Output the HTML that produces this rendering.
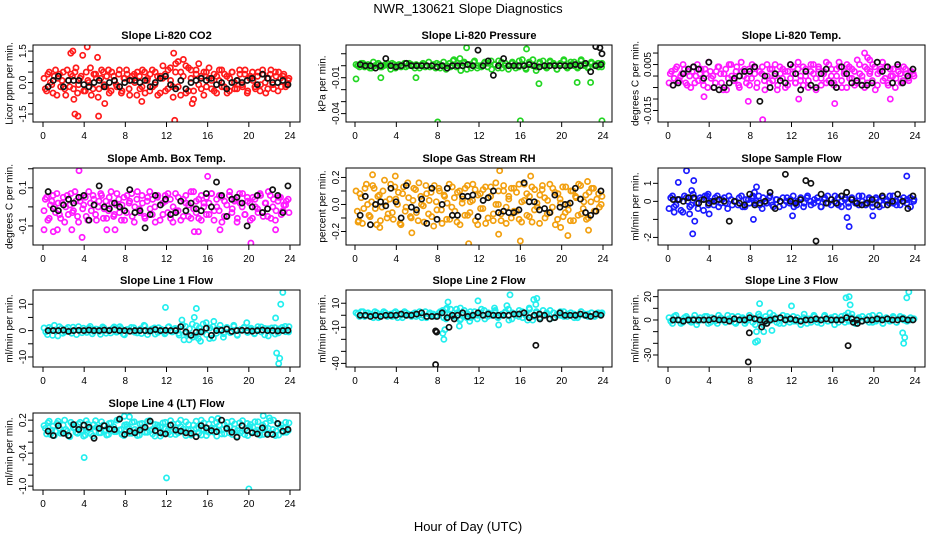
<!DOCTYPE html>
<html><head><meta charset="utf-8"><style>
html,body{margin:0;padding:0;background:#fff;}
svg{display:block;font-family:"Liberation Sans",sans-serif;}
</style></head><body>
<svg id="chart" width="936" height="540" viewBox="0 0 936 540" xmlns="http://www.w3.org/2000/svg">
<text x="468" y="13" text-anchor="middle" font-size="13">NWR_130621  Slope Diagnostics</text>
<text x="468" y="531" text-anchor="middle" font-size="13">Hour of Day (UTC)</text>
</svg>
<script>
const xTicks=[0,4,8,12,16,20,24];
const co2=[0.2,-0.4,0.5,-0.1,0.3,-0.6,0.4,0.1,-0.3,0.6,-0.2,0.3,0.5,-0.5,0.2,1.3,-0.4,0.1,0.7,-0.3,0.4,-0.7,0.2,0.5,-0.2,0.6,-0.4,0.3,-0.1,0.4,-0.5,0.2,0.6,-0.3,0.1,0.4,-0.6,0.3,-0.2,0.5,0.1,-0.4,0.6,-0.1,0.3,-0.5,0.2,0.4,-0.3,0.7,-0.2,0.5,1.0,-0.6,0.3,0.8,-0.4,0.6,-0.8,0.4,0.9,-0.3,0.5,-0.2,0.7,0.1,-0.4,0.3,0.6,-0.2,0.4,-0.5,0.2,0.5,-0.3,0.1,0.4,-0.2,0.6,-0.4,0.3,0.1,-0.3,0.5,-0.1,0.4,-0.5,0.2,0.6,-0.3,0.3,0.5,-0.2,0.4,-0.1,0.2];
const co2B=[-0.3,0.4,0.0,-0.5,0.6,0.2,-0.2,0.5,-0.6,0.1,0.4,-0.3,0.7,-0.1,0.3,-0.4,0.5,0.0,-0.6,0.4,0.2,-0.3,0.6,-0.1,0.3,-0.5,0.5,0.1,-0.2,0.6,-0.4,0.2,0.4,-0.6,0.3,0.0,0.5,-0.3,0.6,-0.5,0.2,0.4,-0.2,0.5,-0.6,0.3,0.8,-0.4,0.6,0.1,-0.7,0.9,-0.2,0.5,1.1,-0.5,0.7,0.2,-0.4,0.6,-0.1,0.3,-0.6,0.5,0.2,-0.3,0.4,-0.5,0.1,0.6,-0.2,0.3,-0.4,0.5,0.0,-0.3,0.6,-0.1,0.4,-0.5,0.2,0.5,-0.2,0.3,-0.4,0.6,0.0,-0.3,0.4,-0.1,0.5,-0.4,0.2,0.3,-0.2,0.1];
const co2Out=[[2.7,1.4],[2.9,1.5],[3.1,-1.5],[3.4,-1.6],[4.3,1.7],[5.3,1.2],[5.4,-1.6],[6.0,-1.0],[9.6,-0.9],[12.7,1.4],[12.8,-1.8],[14.5,-1.0],[3.0,-0.8]];
const co2Black=[-0.2,0.1,0.3,-0.2,0.1,0.1,0.1,-0.1,-0.2,0.0,0.1,-0.2,0.0,0.1,-0.2,0.0,0.1,0.1,0.0,0.1,-0.2,0.0,0.2,0.3,-0.1,-0.3,0.1,-0.3,0.0,0.1,0.2,0.1,0.2,-0.1,0.0,-0.3,0.0,0.1,0.0,0.1,0.2,-0.1,0.4,0.2,0.0,0.0,0.1,-0.1];
const co2BlackOut=[];
const pres=[0.001,-0.001,0.002,0.000,-0.002,0.003,0.001,-0.001,0.000,0.002,-0.003,0.001,0.000,-0.001,0.002,0.000,0.001,-0.002,0.000,0.001,-0.001,0.003,0.000,-0.002,0.001,0.000,-0.003,0.002,0.004,-0.001,0.006,0.002,-0.003,0.001,0.003,-0.002,0.000,0.002,-0.001,0.004,0.001,-0.002,0.003,0.000,-0.003,0.002,0.001,-0.001,0.005,-0.002,0.003,0.000,-0.004,0.002,0.004,-0.001,0.003,0.001,-0.003,0.002,0.004,-0.002,0.001,0.003,-0.001,0.005,0.000,-0.002,0.002,0.001,-0.001,0.002];
const presB=[0.000,0.002,-0.001,0.001,-0.002,0.000,0.002,-0.001,0.001,0.000,0.002,-0.002,0.001,0.000,-0.001,0.002,0.000,0.001,-0.002,0.002,0.000,-0.001,0.001,0.002,-0.002,0.003,0.000,-0.001,0.005,0.002,-0.004,0.003,0.001,-0.002,0.004,0.000,-0.001,0.003,0.002,-0.003,0.001,0.004,-0.002,0.002,0.000,0.003,-0.002,0.004,0.001,-0.003,0.002,0.005,-0.001,0.003,0.000,-0.002,0.004,0.002,-0.003,0.001,0.005,-0.001,0.003,0.000,-0.002,0.004,0.001,-0.001,0.003,0.000,0.002,-0.001];
const presOut=[[0.1,-0.011],[8.0,-0.047],[16.0,-0.046],[23.9,-0.046],[17.8,-0.015],[21.5,-0.014],[22.8,-0.014],[10.8,0.015],[16.6,0.014],[5.9,-0.010],[2.5,-0.010]];
const presBlack=[0.001,0.000,0.000,-0.002,0.000,0.006,0.000,-0.001,0.000,0.002,0.000,0.000,0.000,0.000,0.000,-0.001,0.000,-0.002,0.000,0.000,0.000,0.001,0.000,0.013,0.000,0.004,-0.008,0.000,0.006,0.000,0.000,0.000,0.000,0.001,0.000,-0.001,0.000,0.000,0.000,0.000,0.000,0.000,0.001,0.000,0.002,-0.005,0.000,0.001];
const presBlackOut=[[23.3,0.016],[23.7,0.015],[23.9,0.010]];
const temp=[-0.003,0.002,-0.001,0.004,-0.002,0.001,0.003,-0.004,0.000,0.002,-0.003,0.005,0.001,-0.002,0.003,-0.005,0.002,0.000,-0.003,0.004,0.001,-0.006,0.003,-0.001,0.005,-0.002,0.002,-0.004,0.006,0.000,-0.003,0.003,-0.001,0.004,-0.005,0.002,0.001,-0.002,0.005,-0.003,0.003,0.000,-0.006,0.004,-0.001,0.002,-0.004,0.005,0.001,-0.003,0.003,-0.002,0.004,0.000,-0.005,0.002,0.005,-0.001,0.003,-0.004,0.001,0.006,-0.002,0.003,-0.003,0.000,0.004,-0.005,0.002,0.005,-0.001,0.003,-0.004,0.007,0.001,-0.002,0.004,-0.003,0.002,0.005,-0.006,0.001,0.003,-0.002,0.004,-0.004,0.000,0.003,-0.001,0.002,-0.003,0.004,0.001,-0.002,0.002,0.000];
const tempB=[0.001,-0.004,0.003,-0.002,0.000,0.005,-0.003,0.002,-0.005,0.004,0.000,-0.002,0.003,-0.004,0.001,0.006,-0.001,-0.005,0.002,0.004,-0.003,0.001,-0.006,0.005,0.000,-0.002,0.004,-0.005,0.002,0.003,-0.001,-0.004,0.005,0.001,-0.003,0.002,0.004,-0.006,0.000,0.003,-0.002,0.005,-0.004,0.001,0.003,-0.005,0.002,-0.001,0.004,-0.003,0.006,0.000,-0.004,0.003,-0.002,0.005,0.001,-0.006,0.004,-0.001,0.002,-0.003,0.005,0.000,-0.004,0.003,0.006,-0.002,0.001,-0.005,0.004,-0.001,0.002,-0.003,0.005,0.000,-0.005,0.003,0.001,-0.002,0.004,-0.004,0.002,0.006,-0.001,-0.003,0.003,0.000,-0.005,0.004,0.001,-0.002,0.003,-0.001,0.002,0.001];
const tempOut=[[9.2,-0.019],[16.2,-0.012],[19.1,0.010],[19.4,0.008],[19.6,0.007],[7.8,-0.011],[12.7,-0.010],[21.6,-0.010],[3.5,-0.009]];
const tempBlack=[-0.004,-0.003,0.001,0.003,0.004,0.003,-0.001,0.006,-0.005,-0.006,-0.005,-0.003,-0.001,0.000,0.002,0.002,0.004,-0.011,0.000,-0.005,0.001,-0.002,-0.003,0.005,0.001,-0.006,0.002,-0.004,-0.005,0.001,0.003,-0.003,-0.005,0.004,0.001,-0.003,-0.002,-0.004,-0.004,-0.003,0.006,0.002,0.004,-0.003,0.005,-0.003,0.000,0.003];
const tempBlackOut=[];
const amb=[-0.02,0.05,-0.06,0.03,0.00,0.07,-0.04,0.02,-0.08,0.06,0.01,-0.03,0.08,-0.05,0.03,-0.01,0.05,-0.07,0.02,0.06,-0.04,0.00,0.07,-0.06,0.03,-0.02,0.08,-0.05,0.01,0.04,-0.07,0.05,-0.03,0.02,0.07,-0.08,0.04,-0.01,0.06,-0.05,0.03,0.08,-0.04,0.00,0.05,-0.07,0.02,0.06,-0.03,0.04,-0.08,0.07,-0.02,0.03,-0.05,0.06,0.01,-0.06,0.08,-0.03,0.04,-0.07,0.02,0.05,-0.04,0.07,-0.02,0.00,0.06,-0.08,0.03,-0.05,0.08,-0.01,0.04,-0.06,0.02,0.07,-0.04,0.03,-0.07,0.05,0.00,-0.03,0.06,-0.05,0.02,0.08,-0.06,0.04,-0.02,0.05,-0.04,0.01,0.03,-0.03];
const ambB=[0.04,-0.07,0.01,0.06,-0.03,0.02,-0.06,0.05,0.00,-0.04,0.07,-0.02,0.03,-0.08,0.05,0.01,-0.05,0.08,-0.02,0.04,-0.07,0.03,0.06,-0.01,-0.06,0.05,0.02,-0.04,0.07,-0.03,0.01,-0.07,0.06,0.03,-0.05,0.00,0.08,-0.03,0.02,-0.06,0.05,-0.01,0.04,-0.08,0.06,0.01,-0.04,0.03,0.07,-0.06,0.00,-0.02,0.05,-0.07,0.04,0.02,-0.05,0.08,-0.01,0.03,-0.06,0.06,0.00,-0.04,0.02,0.07,-0.07,0.04,-0.02,0.05,-0.05,0.01,0.06,-0.03,0.03,-0.08,0.07,0.00,-0.04,0.05,0.02,-0.06,0.04,-0.01,0.07,-0.03,0.02,-0.05,0.06,0.00,-0.07,0.03,0.05,-0.02,0.01,0.04];
const ambOut=[[0.1,-0.12],[1.0,-0.13],[1.4,-0.12],[2.8,-0.12],[3.5,0.19],[3.8,-0.16],[6.2,-0.12],[7.0,-0.12],[14.7,-0.13],[15.1,-0.13],[16.0,0.16],[17.2,-0.12],[20.2,-0.19],[22.6,-0.12]];
const ambBlack=[0.08,-0.01,-0.02,0.01,0.04,0.02,0.05,0.06,-0.07,0.01,0.11,0.00,-0.01,0.02,0.00,-0.02,0.09,-0.03,-0.02,-0.11,-0.04,0.06,0.01,0.04,-0.04,-0.03,0.03,-0.02,0.02,-0.01,-0.02,0.07,0.00,0.13,0.06,-0.05,0.04,0.05,0.02,-0.10,0.00,0.06,-0.03,-0.01,0.09,0.06,-0.03,0.11];
const ambBlackOut=[];
const rh=[0.10,-0.12,0.05,-0.03,0.15,-0.08,0.02,0.12,-0.15,0.07,-0.02,0.18,-0.10,0.04,-0.06,0.13,0.00,-0.14,0.08,-0.05,0.16,-0.09,0.03,0.11,-0.12,0.06,-0.01,0.14,-0.07,0.09,-0.16,0.02,0.12,-0.04,0.07,-0.11,0.15,-0.02,0.05,-0.13,0.10,0.01,-0.08,0.14,-0.06,0.03,0.11,-0.15,0.08,-0.03,0.13,-0.10,0.06,-0.12,0.16,0.00,-0.07,0.10,-0.14,0.04,0.12,-0.05,0.09,-0.11,0.02,0.15,-0.08,0.06,-0.13,0.11,-0.02,0.07,0.14,-0.10,0.03,-0.06,0.12,-0.15,0.08,0.01,-0.09,0.13,-0.04,0.10,-0.12,0.05,0.15,-0.07,0.02,-0.11,0.09,0.12,-0.05,0.04,-0.02,0.06];
const rhB=[-0.05,0.08,-0.14,0.12,0.00,-0.09,0.14,-0.03,0.06,-0.12,0.10,0.02,-0.07,0.15,-0.11,0.04,0.09,-0.15,0.13,-0.02,0.05,-0.10,0.12,-0.06,0.16,0.00,-0.13,0.08,0.03,-0.09,0.14,-0.04,0.10,-0.14,0.06,0.01,-0.11,0.13,-0.05,0.09,-0.15,0.04,0.12,-0.08,0.02,0.15,-0.12,0.07,-0.03,0.11,-0.14,0.05,0.13,-0.07,0.00,0.10,-0.12,0.14,-0.02,0.06,-0.10,0.12,-0.05,0.15,-0.13,0.03,0.08,-0.09,0.13,-0.04,0.01,-0.14,0.11,0.05,-0.07,0.15,-0.02,0.09,-0.11,0.04,0.13,-0.06,0.00,-0.12,0.10,0.06,-0.08,0.14,-0.03,0.07,-0.10,0.02,0.12,-0.05,0.08,0.00];
const rhOut=[[0.3,-0.13],[1.7,0.22],[2.4,-0.17],[3.9,0.21],[5.5,-0.21],[11.0,-0.29],[14.0,0.25],[13.9,-0.22],[16.0,-0.27],[17.0,0.21],[20.6,-0.23],[22.6,-0.19],[22.5,0.17],[19.9,-0.17]];
const rhBlack=[-0.08,0.06,-0.15,0.00,0.02,-0.01,0.12,0.02,-0.10,0.14,-0.02,-0.04,0.04,-0.14,0.12,-0.11,0.00,0.12,-0.08,-0.08,0.06,0.06,0.07,-0.09,0.03,0.05,0.10,-0.06,-0.05,-0.06,-0.06,-0.04,0.16,0.02,0.02,-0.04,-0.03,-0.06,0.07,-0.02,0.00,0.01,0.12,0.04,-0.06,-0.08,-0.05,0.10];
const rhBlackOut=[];
const samp=[-0.4,0.3,-0.2,0.1,-0.6,0.2,-0.3,0.4,-0.1,0.2,-0.5,0.3,0.0,-0.2,0.3,-0.1,0.2,-0.4,0.1,0.0,-0.2,0.3,-0.3,0.1,0.2,-0.1,0.3,-0.4,0.0,0.2,-0.2,0.1,-0.3,0.2,0.0,-0.1,0.3,-0.2,0.1,-0.3,0.2,0.0,-0.1,0.2,-0.3,0.1,0.3,-0.2,0.0,0.2,-0.3,0.1,-0.1,0.2,0.0,-0.2,0.3,-0.1,0.1,-0.3,0.2,0.0,-0.2,0.1,0.3,-0.1,0.0,-0.2,0.2,0.1,-0.3,0.1];
const sampB=[0.2,-0.3,0.1,-0.5,0.3,0.0,-0.2,0.2,-0.4,0.1,0.3,-0.2,0.0,0.2,-0.3,0.1,-0.1,0.3,-0.2,0.0,0.2,-0.3,0.1,-0.1,0.3,0.0,-0.2,0.2,-0.1,0.3,-0.3,0.1,0.0,-0.2,0.2,0.1,-0.3,0.0,0.2,-0.1,0.3,-0.2,0.1,0.0,-0.3,0.2,-0.1,0.1,0.3,-0.2,0.0,0.2,-0.3,0.1,-0.1,0.3,0.0,-0.2,0.2,-0.1,0.1,-0.3,0.2,0.0,-0.1,0.3,-0.2,0.1,0.0,-0.1,0.2,0.0];
const sampOut=[[1.0,1.05],[1.8,1.7],[2.1,-0.7],[2.3,0.6],[2.4,-1.8],[2.5,1.15],[2.6,-1.1],[3.9,0.4],[4.0,-0.7],[8.3,-1.0],[8.6,0.8],[12.1,-0.8],[17.4,-0.9],[17.6,-1.4],[19.9,-0.8],[23.2,1.4],[8.4,0.5],[0.6,-0.6]];
const sampBlack=[0.1,0.1,0.0,0.2,0.2,-0.1,0.1,-0.1,0.0,0.1,0.0,-1.1,0.0,-0.1,-0.2,0.4,-0.2,-0.1,0.0,0.5,-0.4,0.0,1.5,0.0,-0.1,0.1,1.15,1.0,-2.2,0.4,-0.1,0.1,-0.1,0.3,0.5,0.1,-0.1,-0.2,-0.1,0.1,-0.2,0.3,-0.2,0.0,0.4,0.0,-0.4,0.3];
const sampBlackOut=[];
const l1=[1.0,-1.5,0.5,2.0,-2.0,0.8,-0.5,1.2,-1.0,0.3,1.5,-0.8,0.0,1.0,-1.2,0.6,-0.3,1.4,-1.0,0.2,0.9,-0.6,1.5,-1.3,0.4,-0.2,1.1,-0.9,0.7,2.0,-1.5,0.3,1.0,-0.7,0.5,-1.2,1.3,-0.4,0.8,-1.0,0.2,1.6,-1.5,2.5,-2.0,1.0,-0.5,3.0,-3.0,1.5,-1.0,0.5,-2.5,1.2,-0.8,2.0,-1.5,0.4,1.0,-0.7,0.3,-1.2,1.5,-0.5,0.8,-2.0,1.0,-1.3,0.6,1.2,-0.4,1.5];
const l1B=[-0.5,1.2,-1.8,0.3,1.5,-1.0,0.6,-0.2,1.3,-1.5,0.2,0.9,-0.7,1.6,-0.3,0.5,-1.4,1.0,0.0,-0.9,1.4,-0.4,0.8,-1.6,0.4,1.2,-0.6,0.1,-1.1,1.7,-0.2,0.6,-1.3,1.1,0.0,-0.8,1.5,-0.5,0.3,-1.7,2.2,-1.0,0.7,-2.5,1.8,-0.3,2.5,-1.5,1.0,-2.8,0.5,2.0,-1.2,0.8,-0.4,1.6,-1.8,0.2,1.3,-0.6,0.9,-1.0,0.4,1.4,-1.6,0.7,-0.2,1.1,-0.9,0.3,1.6,-0.5];
const l1Out=[[11.9,8.8],[14.9,8.4],[15.1,-3],[15.3,-4],[13.7,-3.5],[14.2,-3.5],[14.7,5],[16.6,3.5],[19.8,3],[22.6,4.8],[22.7,-8.5],[22.9,-12.5],[23.0,-10.5],[23.1,10],[23.3,14.5],[13.5,4]];
const l1Black=[0,0,0,0.2,-0.3,0,0.1,0,0.2,0,0,0.2,0,0.3,0,0,-0.2,0,0,0,-0.1,0.4,0,0.1,0,0,1.5,-0.5,-1.8,-0.6,-0.5,0.9,-1.8,0,0.1,0.6,-0.3,0,0.1,0,-0.2,0,0.2,0,0,-0.1,0,0.1];
const l1BlackOut=[];
const l2=[2,-1,3,0,1,-2,2,0,3,-1,1,2,-2,0,3,1,-1,2,0,-2,3,1,0,-1,2,4,-3,1,0,5,-4,2,-2,3,0,-3,2,4,-1,1,3,-2,0,2,5,-3,1,-1,3,0,6,-4,2,-2,4,1,-3,2,0,3,-1,1,2,-2,0,3,1,-1,2,0,1,2];
const l2B=[1,3,-1,2,0,3,-2,1,2,0,-1,3,1,-2,2,0,1,-1,3,0,-2,2,1,0,3,-2,1,5,-1,2,-3,4,1,-2,3,0,5,-3,2,0,4,-1,1,3,-4,2,0,4,-2,1,5,-1,3,-3,0,2,4,-2,1,0,3,-1,2,1,-2,3,0,1,2,-1,2,1];
const l2Out=[[8.9,6],[9.0,11],[8.8,5],[8.7,-12],[8.6,-20],[8.5,-15],[10.1,-9],[10.2,6],[11.9,12],[14.7,8],[15.0,17],[13.5,6],[13.9,-8],[11.1,-5],[17.3,13],[17.6,14],[17.5,9],[16.7,-4]];
const l2Black=[0,0,-1,0,-1,0,0,0,1,0,0,1,2,-1,-1,-1,2,-2,0,0,2,-1,0,2,0,1,0,0,0,0,1,1,2,-2,0,1,0,-3,-2,2,0,0,0,1,0,-1,1,0];
const l2BlackOut=[[7.8,-13],[7.9,-14],[7.8,-41],[9.1,-10],[9.6,-3],[17.5,-25],[17.9,-3]];
const l3=[2,-3,4,0,-2,3,-1,1,-4,2,0,3,-2,1,-3,2,0,4,-1,-2,3,1,-3,0,2,-4,5,-2,3,-1,0,2,-3,4,1,-2,3,-1,0,2,-3,1,4,-2,0,3,-1,2,-4,1,3,-2,0,5,-3,2,-1,1,3,-2,0,4,-3,1,-1,2,-2,3,0,-1,2,1];
const l3B=[-1,3,0,-3,2,1,-2,4,-1,0,3,-3,2,-1,4,0,-2,1,3,-3,0,2,-1,4,-2,1,3,-4,0,2,4,-2,1,-3,3,0,-1,2,-4,5,1,-2,3,0,-3,4,-1,1,3,-2,0,4,-1,2,-3,1,3,0,-2,4,-1,1,-3,2,0,3,-2,1,2,-1,0,1];
const l3Out=[[8.8,5],[8.9,14],[8.6,-10],[8.5,-19],[8.7,-18],[9.3,-10],[9.9,6],[10.1,-9],[12.0,12],[17.3,19],[17.6,20],[17.5,6],[17.7,13],[22.8,-11],[22.9,-20],[23.0,-15],[23.2,19],[23.4,24]];
const l3Black=[0,0,-1,0,0,0,0,0,1,0,0,-1,1,0,0,2,1,0,-1,0,1,2,0,1,0,-1,0,0,1,0,1,0,0,0,2,1,0,-1,0,0,1,0,1,0,0,1,0,0];
const l3BlackOut=[[7.9,-11],[7.8,-36],[9.1,-6],[9.6,-3],[17.5,-22],[18.0,-2],[18.4,-3]];
const l4=[0.10,-0.05,0.18,0.02,-0.08,0.14,0.05,-0.02,0.20,0.00,-0.10,0.12,0.07,-0.04,0.16,0.01,-0.07,0.13,0.04,-0.09,0.19,0.06,-0.03,0.11,0.02,-0.06,0.15,0.08,-0.01,0.21,0.03,-0.08,0.12,0.05,-0.04,0.17,0.00,-0.07,0.14,0.06,-0.02,0.19,0.03,-0.09,0.11,0.08,-0.05,0.16,0.01,-0.06,0.13,0.07,-0.03,0.20,0.04,-0.08,0.12,0.02,-0.04,0.18,0.06,-0.07,0.15,0.00,-0.02,0.21,0.05,-0.09,0.11,0.03,-0.05,0.16,0.08,-0.06,0.13,0.01,-0.03,0.19,0.04,-0.08,0.12,0.07,-0.01,0.17,0.02,-0.06,0.14,0.05,-0.04,0.20,0.00,-0.07,0.11,0.06,-0.02,0.15];
const l4B=[0.05,0.15,-0.06,0.09,0.00,0.18,-0.04,0.11,0.03,-0.08,0.16,0.06,-0.02,0.13,0.01,-0.09,0.19,0.04,-0.05,0.12,0.07,-0.03,0.17,0.00,-0.07,0.14,0.05,-0.01,0.20,0.02,-0.06,0.11,0.08,-0.04,0.16,0.03,-0.08,0.13,0.06,-0.02,0.18,0.01,-0.05,0.12,0.07,-0.09,0.15,0.04,-0.03,0.19,0.00,-0.06,0.14,0.08,-0.01,0.17,0.02,-0.07,0.11,0.05,-0.04,0.20,0.03,-0.08,0.13,0.06,-0.02,0.16,0.01,-0.05,0.12,0.07,-0.03,0.18,0.04,-0.09,0.15,0.00,-0.06,0.14,0.08,-0.01,0.17,0.02,-0.07,0.11,0.05,-0.04,0.19,0.03,-0.08,0.13,0.06,-0.02,0.16,0.01];
const l4Out=[[4.0,-0.48],[12.0,-0.85],[20.0,-1.05],[21.4,0.28],[22.0,0.24],[7.9,0.27],[8.4,0.26],[17.0,0.23]];
const l4Black=[0.00,-0.08,0.10,-0.04,-0.08,0.12,0.03,0.11,0.07,-0.13,0.05,0.10,0.04,0.03,0.22,-0.06,0.00,-0.03,0.02,0.07,0.18,0.01,-0.03,-0.05,0.11,0.02,0.00,-0.03,-0.04,-0.10,0.10,0.06,0.01,-0.01,0.20,0.05,-0.02,-0.11,0.10,0.01,-0.03,-0.05,0.06,-0.06,-0.06,0.14,0.00,0.03];
const l4BlackOut=[];

const NS='http://www.w3.org/2000/svg';
const svg=document.getElementById('chart');
const cols=[{bl:33,br:300,x0:43,x24:290,lab:9,tl:26},{bl:346,br:612,x0:355,x24:603,lab:322,tl:339},{bl:658,br:925,x0:668,x24:915,lab:635,tl:651}];
const rows=[45,168,290,413];
const panels=[
{name:'co2',title:'Slope Li-820 CO2',ylab:'Licor ppm per min.',c:0,r:0,ymin:-1.88,ymax:1.79,ticks:[-1.5,-1,-0.5,0,0.5,1,1.5],labels:[[1.5,'1.5'],[0,'0.0'],[-1.5,'-1.5']],col:'#ff1a1a',d:co2,d2:co2B,o:co2Out,b:co2Black,bo:co2BlackOut},
{name:'pressure',title:'Slope Li-820 Pressure',ylab:'kPa per min.',c:1,r:0,ymin:-0.047,ymax:0.0173,ticks:[0.01,0,-0.01,-0.02,-0.03,-0.04],labels:[[-0.01,'-0.01'],[-0.04,'-0.04']],col:'#22d622',d:pres,d2:presB,o:presOut,b:presBlack,bo:presBlackOut},
{name:'temp',title:'Slope Li-820 Temp.',ylab:'degrees C per min.',c:2,r:0,ymin:-0.020,ymax:0.0135,ticks:[0.01,0.005,0,-0.005,-0.01,-0.015],labels:[[0.005,'0.005'],[-0.015,'-0.015']],col:'#ff1aff',d:temp,d2:tempB,o:tempOut,b:tempBlack,bo:tempBlackOut},
{name:'amb-box-temp',title:'Slope Amb. Box Temp.',ylab:'degrees C per min.',c:0,r:1,ymin:-0.2,ymax:0.204,ticks:[0.2,0.1,0,-0.1],labels:[[0.1,'0.1'],[-0.1,'-0.1']],col:'#ff1aff',d:amb,d2:ambB,o:ambOut,b:ambBlack,bo:ambBlackOut},
{name:'gas-stream-rh',title:'Slope Gas Stream RH',ylab:'percent per min.',c:1,r:1,ymin:-0.30,ymax:0.27,ticks:[0.2,0.1,0,-0.1,-0.2],labels:[[0.2,'0.2'],[0,'0.0'],[-0.2,'-0.2']],col:'#f2a010',d:rh,d2:rhB,o:rhOut,b:rhBlack,bo:rhBlackOut},
{name:'sample-flow',title:'Slope Sample Flow',ylab:'ml/min per min.',c:2,r:1,ymin:-2.42,ymax:1.85,ticks:[1,0,-1,-2],labels:[[1,'1'],[0,'0'],[-2,'-2']],col:'#1a1aff',d:samp,d2:sampB,o:sampOut,b:sampBlack,bo:sampBlackOut},
{name:'line1-flow',title:'Slope Line 1 Flow',ylab:'ml/min per min.',c:0,r:2,ymin:-13.8,ymax:15.4,ticks:[10,5,0,-5,-10],labels:[[10,'10'],[0,'0'],[-10,'-10']],col:'#22eeee',d:l1,d2:l1B,o:l1Out,b:l1Black,bo:l1BlackOut},
{name:'line2-flow',title:'Slope Line 2 Flow',ylab:'ml/min per min.',c:1,r:2,ymin:-43,ymax:21,ticks:[10,0,-10,-20,-30,-40],labels:[[10,'10'],[-10,'-10'],[-40,'-40']],col:'#22eeee',d:l2,d2:l2B,o:l2Out,b:l2Black,bo:l2BlackOut},
{name:'line3-flow',title:'Slope Line 3 Flow',ylab:'ml/min per min.',c:2,r:2,ymin:-40.3,ymax:25.7,ticks:[20,10,0,-10,-20,-30],labels:[[20,'20'],[0,'0'],[-30,'-30']],col:'#22eeee',d:l3,d2:l3B,o:l3Out,b:l3Black,bo:l3BlackOut},
{name:'line4-flow',title:'Slope Line 4 (LT) Flow',ylab:'ml/min per min.',c:0,r:3,ymin:-1.07,ymax:0.33,ticks:[0.2,0,-0.2,-0.4,-0.6,-0.8,-1.0],labels:[[0.2,'0.2'],[-0.4,'-0.4'],[-1.0,'-1.0']],col:'#22eeee',d:l4,d2:l4B,o:l4Out,b:l4Black,bo:l4BlackOut}
];
function mk(tag,attrs,parent){const e=document.createElementNS(NS,tag);for(const k in attrs)e.setAttribute(k,attrs[k]);(parent||svg).appendChild(e);return e;}
panels.forEach(p=>{
  const C=cols[p.c],top=rows[p.r],bot=top+77;
  const g=mk('g',{});
  
  
  const xs=h=>C.x0+(C.x24-C.x0)*h/24;
  const ys=v=>bot-(v-p.ymin)/(p.ymax-p.ymin)*(bot-top);
  const t=mk('text',{x:(C.bl+C.br)/2,y:top-6,'text-anchor':'middle','font-size':'11','font-weight':'bold'},g);
  t.textContent=p.title;
  
  
  const yl=mk('text',{x:C.lab,y:(top+bot)/2,'text-anchor':'middle','font-size':'10',transform:'rotate(-90 '+C.lab+' '+(top+bot)/2+')',dy:'0.35em'},g);
  yl.textContent=p.ylab;
  
  
  xTicks.forEach(h=>{
    const x=xs(h);
    const tk=mk('line',{x1:x,x2:x,y1:bot,y2:bot+5,stroke:'#000','stroke-width':1},g);
    
    
    const tl=mk('text',{x:x,y:bot+17,'text-anchor':'middle','font-size':'10'},g);
    tl.textContent=h;
    
    
  });
  p.ticks.forEach(v=>{
    const y=ys(v);
    const tk=mk('line',{x1:C.bl-5,x2:C.bl,y1:y,y2:y,stroke:'#000','stroke-width':1},g);
    
    
  });
  p.labels.forEach(([v,s])=>{
    const y=ys(v);
    const tl=mk('text',{x:C.tl,y:y,'text-anchor':'middle','font-size':'10',transform:'rotate(-90 '+C.tl+' '+y+')'},g);
    tl.textContent=s;
    
    
  });
  const clip='clip-'+p.name;
  const cp=mk('clipPath',{id:clip},g);
  mk('rect',{x:C.bl,y:top,width:C.br-C.bl,height:bot-top},cp);
  const pts=mk('g',{'clip-path':'url(#'+clip+')'},g);
  
  
  const dot=(h,v,col,nm)=>{
    const c=mk('circle',{cx:xs(h),cy:ys(v),r:2.6,fill:'none',stroke:col,'stroke-width':1.7},pts);
    
    
  };
  const n=p.d.length;
  p.d.forEach((v,i)=>dot(0.1+i*23.8/(n-1),v,p.col,'point'));
  const n2=p.d2.length;
  p.d2.forEach((v,i)=>dot(0.1+(i+0.5)*23.6/(n2-1),v,p.col,'point'));
  p.o.forEach(([h,v])=>dot(h,v,p.col,'outlier-point'));
  const nb=p.b.length;
  p.b.forEach((v,i)=>dot(0.5+i*23.3/(nb-1),v,'#111','black-point'));
  p.bo.forEach(([h,v])=>dot(h,v,'#111','black-outlier-point'));
  const box=mk('rect',{x:C.bl,y:top,width:C.br-C.bl,height:bot-top,fill:'none',stroke:'#000','stroke-width':1},g);
  
  
});
</script>
</body></html>
